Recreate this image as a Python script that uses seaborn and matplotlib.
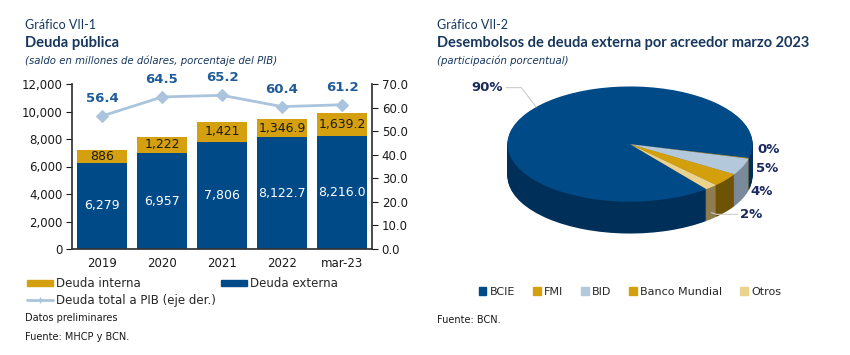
import numpy as np
import pandas as pd
import matplotlib
matplotlib.use("Agg")
import matplotlib.pyplot as plt
import seaborn as sns
from matplotlib.patches import Patch
from matplotlib.lines import Line2D
from matplotlib.ticker import FuncFormatter, MultipleLocator

# ---------------- data ----------------
years = ["2019", "2020", "2021", "2022", "mar-23"]
externa = [6279, 6957, 7806, 8122.7, 8216.0]
interna = [886, 1222, 1421, 1346.9, 1639.2]
pib = [56.4, 64.5, 65.2, 60.4, 61.2]
externa_lbl = ["6,279", "6,957", "7,806", "8,122.7", "8,216.0"]
interna_lbl = ["886", "1,222", "1,421", "1,346.9", "1,639.2"]

acreedores = ["BCIE", "FMI", "BID", "Banco Mundial", "Otros"]
participacion = [89.6, 0.2, 4.7, 3.8, 1.7]
part_lbl = ["90%", "0%", "5%", "4%", "2%"]

# ---------------- style ----------------
sns.set_theme(style="white")
plt.rcParams["font.family"] = ["DejaVu Sans"]

C_EXT = "#004A87"
C_INT = "#D4A00F"
C_LINE = "#A9C4DC"
C_LBL = "#1F5C99"
C_TITLE = "#17375E"
C_TXT = "#1a1a1a"
pie_colors = ["#004A87", "#D4A00F", "#B4C8DC", "#D49F0C", "#ECD38D"]
pie_side = ["#00305A", "#8A6A08", "#7A8A9A", "#6E5206", "#8F7D50"]
TFONT = ["Lato", "DejaVu Sans"]

fig = plt.figure(figsize=(8.5, 3.55), dpi=100)
W, H = 850, 355

def fx(px):
    return px / W

def fy(py):
    return 1 - py / H

# ---------------- left: bars ----------------
ax = fig.add_axes([fx(72), fy(249), fx(372) - fx(72), fy(84) - fy(249)])
df = pd.DataFrame({"year": years, "externa": externa, "interna": interna,
                   "total": np.array(externa) + np.array(interna)})
sns.barplot(data=df, x="year", y="total", color=C_INT, width=0.82,
            saturation=1, ax=ax, edgecolor="none")
sns.barplot(data=df, x="year", y="externa", color=C_EXT, width=0.82,
            saturation=1, ax=ax, edgecolor="none")
ax.set_ylim(0, 12000)
ax.set_xlim(-0.5, 4.5)
ax.yaxis.set_major_locator(MultipleLocator(2000))
ax.yaxis.set_major_formatter(FuncFormatter(lambda v, p: f"{int(v):,}"))
ax.set_xlabel("")
ax.set_ylabel("")
for s in ["top", "right"]:
    ax.spines[s].set_visible(False)
ax.spines["left"].set_color("#333333")
ax.spines["bottom"].set_color("#333333")
ax.tick_params(axis="y", labelsize=8.5, colors=C_TXT, length=4, width=0.8,
               direction="out", left=True, pad=3)
ax.tick_params(axis="x", labelsize=8.5, colors=C_TXT, length=0, pad=6)
for i in range(len(years)):
    ax.text(i, externa[i] / 2, externa_lbl[i], ha="center", va="center",
            color="white", fontsize=9)
    ax.text(i, externa[i] + interna[i] / 2, interna_lbl[i], ha="center",
            va="center", color=C_TXT, fontsize=9)

ax2 = ax.twinx()
sns.lineplot(x=list(range(len(years))), y=pib, ax=ax2, color=C_LINE,
             marker="D", markersize=6, markeredgecolor=C_LINE, linewidth=2)
ax2.set_ylim(0, 70)
ax2.set_xlim(-0.5, 4.5)
ax2.yaxis.set_major_locator(MultipleLocator(10))
ax2.yaxis.set_major_formatter(FuncFormatter(lambda v, p: f"{v:.1f}"))
for s in ["top", "left", "bottom"]:
    ax2.spines[s].set_visible(False)
ax2.spines["right"].set_color("#333333")
ax2.tick_params(axis="y", labelsize=8.5, colors=C_TXT, length=4, width=0.8,
                direction="out", right=True, pad=3)
for i, v in enumerate(pib):
    ax2.annotate(f"{v:.1f}", (i, v), xytext=(0, 8), textcoords="offset points",
                 ha="center", va="bottom", color=C_LBL, fontsize=9.5,
                 fontweight="bold")

# left legend
handles1 = [Patch(color=C_INT, label="Deuda interna"),
            Patch(color=C_EXT, label="Deuda externa"),
            Line2D([0], [0], color=C_LINE, marker="+", markersize=4,
                   linewidth=2, label="Deuda total a PIB (eje der.)")]
fig.legend(handles=handles1[:2], loc="upper left", ncol=2,
           bbox_to_anchor=(fx(27), fy(277)), frameon=False, fontsize=8.5,
           handlelength=2.2, handleheight=0.45, handletextpad=0.25,
           columnspacing=6.8, borderaxespad=0, borderpad=0)
fig.legend(handles=handles1[2:], loc="upper left", ncol=1,
           bbox_to_anchor=(fx(27), fy(294)), frameon=False, fontsize=8.5,
           handlelength=2.2, handletextpad=0.25, borderaxespad=0, borderpad=0)

# left titles
fig.text(fx(25), fy(25), "Gráfico VII-1", color=C_TITLE, fontsize=9,
         va="center", ha="left", family=TFONT, fontweight="normal")
fig.text(fx(25), fy(43), "Deuda pública", color=C_TITLE, fontsize=10.6,
         fontweight="bold", va="center", ha="left", family=TFONT)
fig.text(fx(25), fy(61), "(saldo en millones de dólares, porcentaje del PIB)",
         color=C_TITLE, fontsize=7.3, style="italic", va="center", ha="left")
fig.text(fx(25), fy(318), "Datos preliminares", color=C_TXT, fontsize=7,
         va="center", ha="left")
fig.text(fx(25), fy(337), "Fuente: MHCP y BCN.", color=C_TXT, fontsize=7,
         va="center", ha="left")

# ---------------- right: 3D-like pie ----------------
k = 0.47       # vertical squash
depth = 0.26   # side thickness (in radius units, after squash)
pax = fig.add_axes([fx(505), fy(240), fx(755) - fx(505), fy(80) - fy(240)])
startangle = -14 + participacion[0] / 100 * 360
nlay = 40
for j in range(nlay, 0, -1):
    off = -depth * j / nlay / k
    pax.pie(participacion, colors=pie_side, startangle=startangle,
            counterclock=False, center=(0, off),
            wedgeprops=dict(linewidth=0, antialiased=True))
wedges, _ = pax.pie(participacion, colors=pie_colors, startangle=startangle,
                    counterclock=False, center=(0, 0),
                    wedgeprops=dict(linewidth=0))
pax.set_aspect(k)
pax.set_xlim(-1.02, 1.02)
pax.set_ylim(-1.0 - depth / k - 0.05, 1.05)
pax.axis("off")

# pie labels
label_pos = {0: (-1.04, 0.98), 1: (1.04, -0.10), 2: (1.03, -0.42),
             3: (0.98, -0.82), 4: (0.90, -1.22)}
for i, (w, lbl) in enumerate(zip(wedges, part_lbl)):
    ang = np.deg2rad((w.theta1 + w.theta2) / 2)
    tx, ty = label_pos[i]
    if i in (0, 4):
        ex, ey = np.cos(ang), np.sin(ang)
        if i == 0:
            ex, ey = np.cos(np.deg2rad(140)), np.sin(np.deg2rad(140))
            pax.plot([tx + 0.03, ex - 0.12, ex], [ty, ty, ey], color="#cccccc",
                     lw=0.8, clip_on=False)
        else:
            ey = ey - depth / k * 0.8
            pax.plot([ex, ex + 0.04, tx - 0.02], [ey, ty, ty], color="#cccccc",
                     lw=0.8, clip_on=False)
    pax.text(tx, ty, lbl, ha="left" if i else "right", va="center",
             color="#1A2A5E", fontsize=9.5, fontweight="bold", clip_on=False)

handles2 = [Patch(color=c, label=l) for c, l in zip(pie_colors, acreedores)]
fig.legend(handles=handles2, loc="center", ncol=5,
           bbox_to_anchor=(fx(630), fy(292)), frameon=False, fontsize=8,
           handlelength=0.7, handleheight=0.7, handletextpad=0.3,
           columnspacing=1.6, borderaxespad=0, borderpad=0)

fig.text(fx(437), fy(25), "Gráfico VII-2", color=C_TITLE, fontsize=9,
         va="center", ha="left", family=TFONT, fontweight="normal")
fig.text(fx(437), fy(43), "Desembolsos de deuda externa por acreedor marzo 2023",
         color=C_TITLE, fontsize=10.5, fontweight="bold", va="center", ha="left",
         family=TFONT)
fig.text(fx(437), fy(61), "(participación porcentual)", color=C_TITLE,
         fontsize=7.3, style="italic", va="center", ha="left")
fig.text(fx(437), fy(320), "Fuente: BCN.", color=C_TXT, fontsize=7,
         va="center", ha="left")

fig.savefig("out.png", dpi=100, facecolor="white")
